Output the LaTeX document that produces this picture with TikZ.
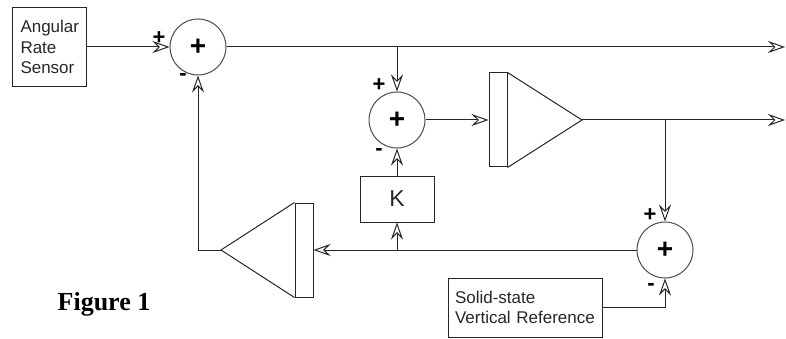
\documentclass[tikz,border=0pt]{standalone}
\usepackage{fontspec}
\setmainfont{Liberation Sans}
\newfontfamily\figfont{Liberation Serif}
\usetikzlibrary{positioning,arrows.meta,calc}
\tikzset{block/.style={draw=black!85,line width=1pt,inner sep=0pt,text=black!85},
         sum/.style={draw=black!70,line width=1pt,circle,minimum size=56pt,inner sep=0pt,font=\bfseries\fontsize{28}{28}\selectfont},
         sign/.style={inner sep=0pt,font=\bfseries\fontsize{22}{22}\selectfont},
         amp/.style={draw=black!85,line width=1pt,minimum width=18pt,minimum height=94pt,inner sep=0pt},
         line/.style={line width=1pt,draw=black!85}
}
\tikzstyle{arrow} = [line,-{Stealth[open,length=17pt,width=12pt,inset=6pt]}]

\begin{document}
\begin{tikzpicture}[x=1pt,y=-1pt]
\useasboundingbox (0,0) rectangle (786,339);

\node[block,minimum width=74pt,minimum height=79pt,text width=57pt,align=left,font=\fontsize{17}{20.5}\selectfont] (sensor) at (49,47) {Angular\\Rate\\Sensor};
\node[sum] (sum1) at (198,47) {+};
\node[sum] (sum2) at (397,120) {+};
\node[sum] (sum3) at (665,250) {+};
\node[amp] (amp1) at (498,120) {};
\node[amp] (amp2) at (304,250) {};
\node[block,minimum width=74pt,minimum height=46pt,font=\fontsize{23}{23}\selectfont] (gain) at (397,199) {K};
\node[block,minimum width=154pt,minimum height=59pt,text width=140pt,align=left,font=\fontsize{17}{20}\selectfont] (vref) at (525,307.5) {Solid-state\\Vertical\ Reference};
\node[font=\figfont\bfseries\fontsize{26}{26}\selectfont] (caption) at (104,304) {Figure 1};

% signs at the inputs
\node[sign] (s1p) at (159,38) {+};
\node[sign] (s1m) at (183,77) {-};
\node[sign] (s2p) at (379,85) {+};
\node[sign] (s2m) at (379,152) {-};
\node[sign] (s3p) at (650,215) {+};
\node[sign] (s3m) at (651,287) {-};

\coordinate (apex1) at (582,120);
\coordinate (apex2) at (221,250);
\coordinate (out1) at (785,47);
\coordinate (out2) at (785,120);
\coordinate (tap1) at (397,47);
\coordinate (tap2) at (665,120);
\coordinate (tap3) at (397,250);

\draw[line] (amp1.north east)--(apex1)--(amp1.south east);
\draw[line] (amp2.north west)--(apex2)--(amp2.south west);

\draw[arrow] (sensor.east)--(sum1.west);
\draw[arrow] (sum1.east)--(out1);
\draw[arrow] (tap1)--(sum2.north);
\draw[arrow] (sum2.east)--(amp1.west);
\draw[arrow] (apex1)--(out2);
\draw[arrow] (tap2)--(sum3.north);
\draw[arrow] (sum3.west)--(amp2.east);
\draw[arrow] (apex2)-|(sum1.south);
\draw[arrow] (tap3)--(gain.south);
\draw[arrow] (gain.north)--(sum2.south);
\draw[arrow] (vref.east)-|(sum3.south);

\end{tikzpicture}
\end{document}
